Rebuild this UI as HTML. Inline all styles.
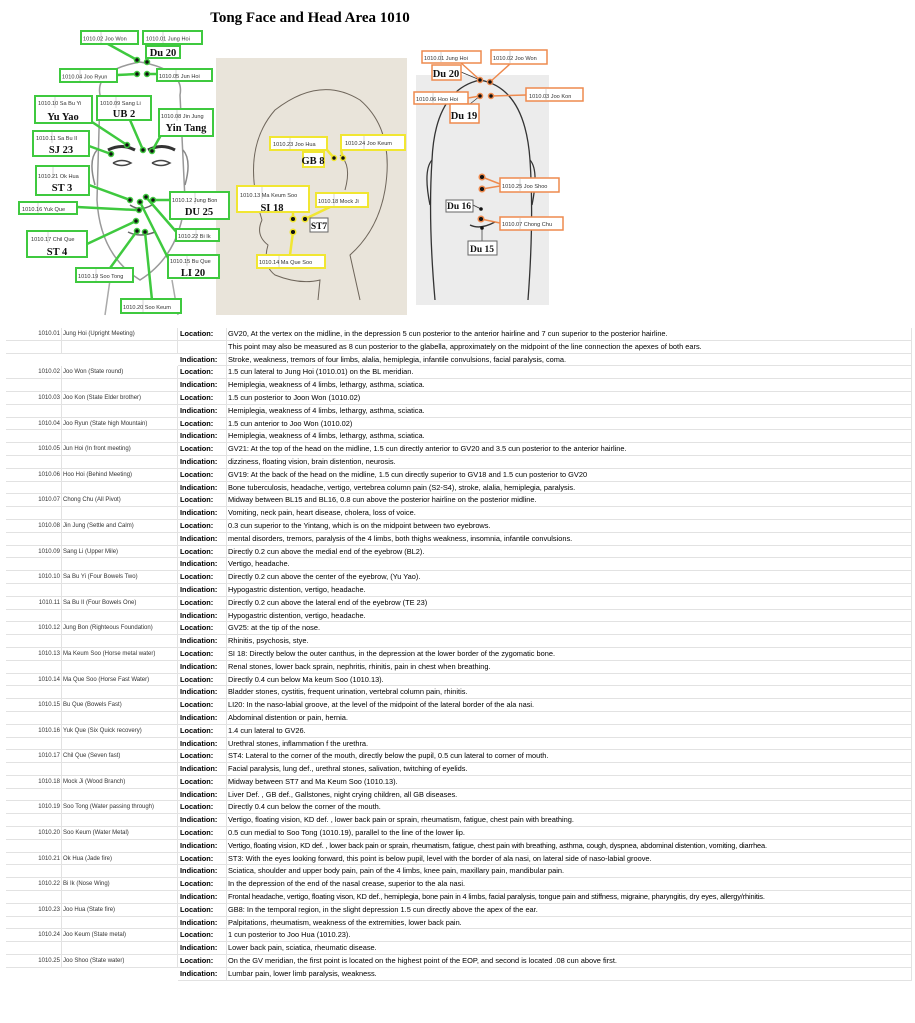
<!DOCTYPE html>
<html><head><meta charset="utf-8">
<style>
body{margin:0;width:915px;height:1023px;background:#fff;position:relative;overflow:hidden;font-family:"Liberation Sans",sans-serif}
#tbl{position:absolute;left:0;top:328px;width:912px}
.r{height:12.8px;position:relative;font-size:7.4px;line-height:12.8px;white-space:nowrap}
.r div{position:absolute;top:0;height:12.8px;box-sizing:border-box;border-bottom:1px solid #e2e2e2;border-right:1px solid #e2e2e2}
.a{left:6px;width:56px;text-align:right;padding-right:1px;color:#333;font-size:6px}
.b{left:62px;width:116px;padding-left:1px;color:#333;font-size:6px}
.c{left:178px;width:49px;font-weight:bold;padding-left:2px}
.d{left:227px;width:685px;padding-left:1px}
.n .a,.n .b{border:none}
</style></head><body>
<svg width="915" height="325" style="position:absolute;left:0;top:0" font-family="Liberation Sans,sans-serif">
<text x="310" y="22" text-anchor="middle" font-family="Liberation Serif,serif" font-weight="bold" font-size="15">Tong Face and Head Area 1010</text>
<!-- front face sketch -->
<g fill="none" stroke="#888" stroke-width="1.5">
<path d="M100 95 Q95 70 140 62 Q185 70 180 95 L185 200 Q180 255 140 280 Q100 255 97 200 Z" stroke="#999"/>
<path d="M97 150 Q88 160 95 185 M183 150 Q192 160 185 185"/>
<path d="M108 150 Q122 143 135 150 M148 150 Q162 143 175 150" stroke="#333" stroke-width="3"/>
<path d="M113 163 Q122 158 131 163 Q122 168 113 163 M152 163 Q161 158 170 163 Q161 168 152 163" stroke="#444"/>
<path d="M130 205 Q140 212 152 205 M128 232 Q140 238 155 232" stroke="#666"/>
<path d="M110 280 L105 315 M172 280 L178 315" stroke="#aaa"/>
</g>
<!-- side image -->
<rect x="216" y="58" width="191" height="257" fill="#e9e4da"/>
<g fill="none" stroke="#6e655a" stroke-width="1">
<path d="M262 220 Q240 150 275 110 Q320 75 360 100 Q395 130 385 190 Q378 230 350 255 L360 300"/>
<path d="M262 220 Q255 235 268 245 Q262 265 275 275 Q300 285 320 280 L318 300"/>
<path d="M340 155 Q352 165 345 190" />
</g>
<!-- back image -->
<rect x="416" y="75" width="133" height="230" fill="#ececec"/>
<g fill="none" stroke="#333" stroke-width="1.3">
<path d="M435 300 Q428 220 432 160 Q435 90 480 80 Q525 88 530 160 Q534 220 528 300"/>
<path d="M432 160 Q423 170 430 205 M530 160 Q539 170 532 205" />
<path d="M470 225 Q480 230 495 222"/>
</g>
<!-- green connectors -->
<g stroke="#3fc93f" stroke-width="2.5" fill="none">
<path d="M108 44 L137 60 M148 44 L147 62 M117 75 L137 74 M147 74 L157 74"/>
<path d="M92 122 L127 145 M130 120 L143 150 M161 135 L152 151 M89 146 L111 154"/>
<path d="M89 185 L130 200 M77 207 L136 210 M87 244 L136 221 M170 200 L153 200"/>
<path d="M179 235 L146 197 M170 262 L140 202 M105 275 L137 231 M152 300 L145 232"/>
</g>
<g fill="#111" stroke="#3fc93f" stroke-width="1.5">
<circle cx="137" cy="60" r="2.5"/><circle cx="147" cy="62" r="2.5"/><circle cx="137" cy="74" r="2.5"/><circle cx="147" cy="74" r="2.5"/>
<circle cx="127" cy="145" r="2.5"/><circle cx="143" cy="150" r="2.5"/><circle cx="152" cy="151" r="2.5"/><circle cx="111" cy="154" r="2.5"/>
<circle cx="130" cy="200" r="2.5"/><circle cx="140" cy="202" r="2.5"/><circle cx="146" cy="197" r="2.5"/><circle cx="153" cy="200" r="2.5"/>
<circle cx="139" cy="210" r="2.5"/><circle cx="136" cy="221" r="2.5"/><circle cx="137" cy="231" r="2.5"/><circle cx="145" cy="232" r="2.5"/>
</g>
<!-- green boxes -->
<g stroke="#3fc93f" stroke-width="2" fill="#fff">
<rect x="81" y="31" width="57" height="13"/><rect x="143" y="31" width="59" height="13"/><rect x="146" y="46" width="34" height="12"/>
<rect x="60" y="69" width="57" height="13"/><rect x="157" y="69" width="55" height="12"/>
<rect x="35" y="96" width="57" height="27"/><rect x="97" y="96" width="54" height="24"/><rect x="159" y="109" width="54" height="27"/>
<rect x="33" y="131" width="56" height="25"/><rect x="36" y="166" width="53" height="29"/><rect x="170" y="192" width="59" height="27"/>
<rect x="19" y="202" width="58" height="12"/><rect x="27" y="231" width="60" height="26"/><rect x="176" y="229" width="43" height="12"/>
<rect x="168" y="255" width="51" height="23"/><rect x="76" y="268" width="57" height="14"/><rect x="121" y="299" width="60" height="14"/>
</g>
<!-- yellow -->
<g stroke="#f1e632" stroke-width="2.5" fill="none">
<path d="M327 150 L334 158 M341 150 L343 158 M293 212 L293 219 M330 207 L305 219 M293 232 L290 255"/>
</g>
<g fill="#111" stroke="#f1e632" stroke-width="1.5">
<circle cx="334" cy="158" r="2.5"/><circle cx="343" cy="158" r="2.5"/><circle cx="293" cy="219" r="2.8"/><circle cx="305" cy="219" r="2.8"/><circle cx="293" cy="232" r="2.8"/>
</g>
<circle cx="313" cy="220" r="2" fill="#111"/>
<g stroke="#f1e632" stroke-width="2" fill="#fff">
<rect x="270" y="137" width="57" height="13"/><rect x="303" y="152" width="21" height="15"/><rect x="341" y="135" width="64" height="15"/>
<rect x="237" y="186" width="72" height="26"/><rect x="316" y="193" width="52" height="14"/><rect x="257" y="255" width="68" height="13"/>
</g>
<rect x="310" y="218" width="18" height="14" fill="#fff" stroke="#666"/>
<!-- orange -->
<g stroke="#ee8a4e" stroke-width="1.5" fill="none">
<path d="M460 62 L480 80 M510 64 L490 82 M468 98 L480 96 M526 95 L491 96 M500 184 L482 177 M500 186 L482 189 M500 223 L481 219"/>
</g>
<path d="M461 72 L480 80 M470 104 L480 96 M473 205 L481 209 M482 228 L482 241" stroke="#333" stroke-width="0.7"/>
<g fill="#111" stroke="#ee8a4e" stroke-width="1.5">
<circle cx="480" cy="80" r="2.5"/><circle cx="490" cy="82" r="2.5"/><circle cx="480" cy="96" r="2.5"/><circle cx="491" cy="96" r="2.5"/>
<circle cx="482" cy="177" r="2.8"/><circle cx="482" cy="189" r="2.8"/><circle cx="481" cy="219" r="2.8"/>
</g>
<circle cx="481" cy="209" r="1.8" fill="#111"/><circle cx="482" cy="228" r="1.8" fill="#111"/>
<g stroke="#ee8a4e" stroke-width="1.5" fill="#fff">
<rect x="422" y="51" width="59" height="12"/><rect x="491" y="50" width="56" height="14"/><rect x="432" y="65" width="29" height="15"/>
<rect x="414" y="92" width="54" height="12"/><rect x="526" y="88" width="57" height="13"/><rect x="450" y="104" width="29" height="19"/>
<rect x="500" y="178" width="59" height="14"/><rect x="500" y="217" width="63" height="13"/>
</g>
<g stroke="#666" stroke-width="1" fill="#fff"><rect x="446" y="200" width="27" height="12"/><rect x="468" y="241" width="29" height="14"/></g>
<!-- dividers -->
<g stroke="#bbb" stroke-width="0.6">
<path d="M101 32V43 M163 32V43 M80 70V81 M176 70V80 M55 97V108 M116 97V108 M177 110V121 M52 132V143 M53 167V178 M195 193V204 M38 203V213 M48 232V243 M196 230V240 M187 256V266 M96 269V281 M143 300V312"/>
<path d="M290 138V149 M364 136V149 M262 187V199 M334 194V206 M279 256V267"/>
<path d="M441 52V62 M510 51V63 M433 93V103 M546 89V100 M520 179V191 M520 218V229"/>
</g>
<g font-size="5.6" fill="#333">
<text x="83" y="40.5">1010.02 Joo Won</text><text x="146" y="40.5">1010.01 Jung Hoi</text>
<text x="62" y="78.5">1010.04 Joo Ryun</text><text x="159" y="78">1010.05   Jun Hoi</text>
<text x="38" y="105">1010.10 Sa Bu Yi</text><text x="100" y="105">1010.09 Sang Li</text><text x="161" y="118">1010.08 Jin Jung</text>
<text x="36" y="140">1010.11 Sa Bu II</text><text x="38" y="178">1010.21 Ok Hua</text><text x="172" y="202">1010.12 Jung Bon</text>
<text x="22" y="211">1010.16 Yuk Que</text><text x="31" y="241">1010.17 Chil Que</text><text x="178" y="238">1010.22 Bi Ik</text>
<text x="170" y="263">1010.15 Bu Que</text><text x="78" y="278">1010.19 Soo Tong</text><text x="123" y="309">1010.20 Soo Keum</text>
<text x="273" y="146">1010.23 Joo Hua</text><text x="345" y="145">1010.24 Joo Keum</text><text x="240" y="197">1010.13  Ma Keum Soo</text>
<text x="318" y="203">1010.18 Mock Ji</text><text x="259" y="264">1010.14 Ma Que Soo</text>
<text x="424" y="60">1010.01 Jung Hoi</text><text x="493" y="60">1010.02 Joo Won</text><text x="416" y="101">1010.06 Hoo Hoi</text>
<text x="529" y="98">1010.03 Joo Kon</text><text x="502" y="188">1010.25 Joo Shoo</text><text x="502" y="226">1010.07 Chong Chu</text>
</g>
<g font-family="Liberation Serif,serif" font-weight="bold" font-size="10.5" fill="#111" text-anchor="middle">
<text x="163" y="56">Du 20</text><text x="63" y="120">Yu Yao</text><text x="124" y="117">UB 2</text><text x="186" y="131">Yin Tang</text>
<text x="61" y="153">SJ 23</text><text x="62" y="191">ST 3</text><text x="199" y="215">DU 25</text><text x="57" y="255">ST 4</text><text x="193" y="276">LI 20</text>
<text x="313" y="164">GB 8</text><text x="272" y="211">SI 18</text><text x="319" y="229" font-size="9.5">ST7</text>
<text x="446" y="77">Du 20</text><text x="464" y="119">Du 19</text><text x="459" y="209" font-size="9.5">Du 16</text><text x="482" y="252" font-size="9.5">Du 15</text>
</g>
</svg>
<div id="tbl">
<div class="r"><div class="a">1010.01</div><div class="b">Jung Hoi (Upright Meeting)</div><div class="c">Location:</div><div class="d">GV20, At the vertex on the midline, in the depression 5 cun posterior to the anterior hairline and 7 cun superior to the posterior hairline.</div></div>
<div class="r"><div class="a"></div><div class="b"></div><div class="c"></div><div class="d"> This point may also be measured as 8 cun posterior to the glabella, approximately on the midpoint of the line connection the apexes of both ears.</div></div>
<div class="r n"><div class="a"></div><div class="b"></div><div class="c">Indication:</div><div class="d">Stroke, weakness, tremors of four limbs, alalia, hemiplegia, infantile convulsions, facial paralysis, coma.</div></div>
<div class="r"><div class="a">1010.02</div><div class="b">Joo Won (State round)</div><div class="c">Location:</div><div class="d">1.5 cun lateral to Jung Hoi (1010.01) on the BL meridian.</div></div>
<div class="r"><div class="a"></div><div class="b"></div><div class="c">Indication:</div><div class="d">Hemiplegia, weakness of 4 limbs, lethargy, asthma, sciatica.</div></div>
<div class="r"><div class="a">1010.03</div><div class="b">Joo Kon (State Elder brother)</div><div class="c">Location:</div><div class="d">1.5 cun posterior to Joon Won (1010.02)</div></div>
<div class="r"><div class="a"></div><div class="b"></div><div class="c">Indication:</div><div class="d">Hemiplegia, weakness of 4 limbs, lethargy, asthma, sciatica.</div></div>
<div class="r"><div class="a">1010.04</div><div class="b">Joo Ryun (State high Mountain)</div><div class="c">Location:</div><div class="d">1.5 cun anterior to Joo Won (1010.02)</div></div>
<div class="r"><div class="a"></div><div class="b"></div><div class="c">Indication:</div><div class="d">Hemiplegia, weakness of 4 limbs, lethargy, asthma, sciatica.</div></div>
<div class="r"><div class="a">1010.05</div><div class="b">Jun Hoi (In front meeting)</div><div class="c">Location:</div><div class="d">GV21: At the top of the head on the midline, 1.5 cun directly anterior to GV20 and 3.5 cun posterior to the anterior hairline.</div></div>
<div class="r"><div class="a"></div><div class="b"></div><div class="c">Indication:</div><div class="d">dizziness, floating vision, brain distention, neurosis.</div></div>
<div class="r"><div class="a">1010.06</div><div class="b">Hoo Hoi (Behind Meeting)</div><div class="c">Location:</div><div class="d">GV19: At the back of the head on the midline, 1.5 cun directly superior to GV18 and 1.5 cun posterior to GV20</div></div>
<div class="r"><div class="a"></div><div class="b"></div><div class="c">Indication:</div><div class="d">Bone tuberculosis, headache, vertigo, vertebrea column pain (S2-S4), stroke, alalia, hemiplegia, paralysis.</div></div>
<div class="r"><div class="a">1010.07</div><div class="b">Chong Chu (All Pivot)</div><div class="c">Location:</div><div class="d">Midway between BL15 and BL16, 0.8 cun above the posterior hairline on the posterior midline.</div></div>
<div class="r"><div class="a"></div><div class="b"></div><div class="c">Indication:</div><div class="d">Vomiting, neck pain, heart disease, cholera, loss of voice.</div></div>
<div class="r"><div class="a">1010.08</div><div class="b">Jin Jung (Settle and Calm)</div><div class="c">Location:</div><div class="d">0.3 cun superior to the Yintang, which is on the midpoint between two eyebrows.</div></div>
<div class="r"><div class="a"></div><div class="b"></div><div class="c">Indication:</div><div class="d">mental disorders, tremors, paralysis of the 4 limbs, both thighs weakness, insomnia, infantile convulsions.</div></div>
<div class="r"><div class="a">1010.09</div><div class="b">Sang Li (Upper Mile)</div><div class="c">Location:</div><div class="d">Directly 0.2 cun above the medial end of the eyebrow (BL2).</div></div>
<div class="r"><div class="a"></div><div class="b"></div><div class="c">Indication:</div><div class="d">Vertigo, headache.</div></div>
<div class="r"><div class="a">1010.10</div><div class="b">Sa Bu Yi (Four Bowels Two)</div><div class="c">Location:</div><div class="d">Directly 0.2 cun above the center of the eyebrow, (Yu Yao).</div></div>
<div class="r"><div class="a"></div><div class="b"></div><div class="c">Indication:</div><div class="d">Hypogastric distention, vertigo, headache.</div></div>
<div class="r"><div class="a">1010.11</div><div class="b">Sa Bu II (Four Bowels One)</div><div class="c">Location:</div><div class="d">Directly 0.2 cun above the lateral end of the eyebrow (TE 23)</div></div>
<div class="r"><div class="a"></div><div class="b"></div><div class="c">Indication:</div><div class="d">Hypogastric distention, vertigo, headache.</div></div>
<div class="r"><div class="a">1010.12</div><div class="b">Jung Bon (Righteous Foundation)</div><div class="c">Location:</div><div class="d">GV25: at the tip of the nose.</div></div>
<div class="r"><div class="a"></div><div class="b"></div><div class="c">Indication:</div><div class="d">Rhinitis, psychosis, stye.</div></div>
<div class="r"><div class="a">1010.13</div><div class="b">Ma Keum Soo (Horse metal water)</div><div class="c">Location:</div><div class="d">SI 18: Directly below the outer canthus, in the depression at the lower border of the zygomatic bone.</div></div>
<div class="r"><div class="a"></div><div class="b"></div><div class="c">Indication:</div><div class="d">Renal stones, lower back sprain, nephritis, rhinitis, pain in chest when breathing.</div></div>
<div class="r"><div class="a">1010.14</div><div class="b">Ma Que Soo (Horse Fast Water)</div><div class="c">Location:</div><div class="d">Directly 0.4 cun below Ma keum Soo (1010.13).</div></div>
<div class="r"><div class="a"></div><div class="b"></div><div class="c">Indication:</div><div class="d">Bladder stones, cystitis, frequent urination, vertebral column pain, rhinitis.</div></div>
<div class="r"><div class="a">1010.15</div><div class="b">Bu Que (Bowels Fast)</div><div class="c">Location:</div><div class="d">LI20: In the naso-labial groove, at the level of the midpoint of the lateral border of the ala nasi.</div></div>
<div class="r"><div class="a"></div><div class="b"></div><div class="c">Indication:</div><div class="d">Abdominal distention or pain, hernia.</div></div>
<div class="r"><div class="a">1010.16</div><div class="b">Yuk Que (Six Quick recovery)</div><div class="c">Location:</div><div class="d">1.4 cun lateral to GV26.</div></div>
<div class="r"><div class="a"></div><div class="b"></div><div class="c">Indication:</div><div class="d">Urethral stones, inflammation f the urethra.</div></div>
<div class="r"><div class="a">1010.17</div><div class="b">Chil Que (Seven fast)</div><div class="c">Location:</div><div class="d">ST4: Lateral to the corner of the mouth, directly below the pupil, 0.5 cun lateral to corner of mouth.</div></div>
<div class="r"><div class="a"></div><div class="b"></div><div class="c">Indication:</div><div class="d">Facial paralysis, lung def., urethral stones, salivation, twitching of eyelids.</div></div>
<div class="r"><div class="a">1010.18</div><div class="b">Mock Ji (Wood Branch)</div><div class="c">Location:</div><div class="d">Midway between ST7 and Ma Keum Soo (1010.13).</div></div>
<div class="r"><div class="a"></div><div class="b"></div><div class="c">Indication:</div><div class="d">Liver Def. , GB def., Gallstones, night crying children, all GB diseases.</div></div>
<div class="r"><div class="a">1010.19</div><div class="b">Soo Tong (Water passing through)</div><div class="c">Location:</div><div class="d">Directly 0.4 cun below the corner of the mouth.</div></div>
<div class="r"><div class="a"></div><div class="b"></div><div class="c">Indication:</div><div class="d">Vertigo, floating vision, KD def. , lower back pain or sprain, rheumatism, fatigue, chest pain with breathing.</div></div>
<div class="r"><div class="a">1010.20</div><div class="b">Soo Keum (Water Metal)</div><div class="c">Location:</div><div class="d">0.5 cun medial to Soo Tong (1010.19), parallel to the line of the lower lip.</div></div>
<div class="r"><div class="a"></div><div class="b"></div><div class="c">Indication:</div><div class="d" style="letter-spacing:-0.15px">Vertigo, floating vision, KD def. , lower back pain or sprain, rheumatism, fatigue, chest pain with breathing, asthma, cough, dyspnea, abdominal distention, vomiting, diarrhea.</div></div>
<div class="r"><div class="a">1010.21</div><div class="b">Ok Hua (Jade fire)</div><div class="c">Location:</div><div class="d">ST3: With the eyes looking forward, this point is below pupil, level with the border of ala nasi, on lateral side of naso-labial groove.</div></div>
<div class="r"><div class="a"></div><div class="b"></div><div class="c">Indication:</div><div class="d">Sciatica, shoulder and upper body pain, pain of the 4 limbs, knee pain, maxillary pain, mandibular pain.</div></div>
<div class="r"><div class="a">1010.22</div><div class="b">Bi Ik (Nose Wing)</div><div class="c">Location:</div><div class="d">In the depression of the end of the nasal crease, superior to the ala nasi.</div></div>
<div class="r"><div class="a"></div><div class="b"></div><div class="c">Indication:</div><div class="d" style="letter-spacing:-0.15px">Frontal headache, vertigo, floating vison, KD def., hemiplegia, bone pain in 4 limbs, facial paralysis, tongue pain and stiffness, migraine, pharyngitis, dry eyes, allergy/rhinitis.</div></div>
<div class="r"><div class="a">1010.23</div><div class="b">Joo Hua (State fire)</div><div class="c">Location:</div><div class="d">GB8: In the temporal region, in the slight depression 1.5 cun directly above the apex of the ear.</div></div>
<div class="r"><div class="a"></div><div class="b"></div><div class="c">Indication:</div><div class="d">Palpitations, rheumatism, weakness of the extremities, lower back pain.</div></div>
<div class="r"><div class="a">1010.24</div><div class="b">Joo Keum (State metal)</div><div class="c">Location:</div><div class="d">1 cun posterior to Joo Hua (1010.23).</div></div>
<div class="r"><div class="a"></div><div class="b"></div><div class="c">Indication:</div><div class="d">Lower back pain, sciatica, rheumatic disease.</div></div>
<div class="r"><div class="a">1010.25</div><div class="b">Joo Shoo (State water)</div><div class="c">Location:</div><div class="d">On the GV meridian, the first point is located on the highest point of the EOP, and second is located .08 cun above first.</div></div>
<div class="r n"><div class="a"></div><div class="b"></div><div class="c">Indication:</div><div class="d">Lumbar pain, lower limb paralysis, weakness.</div></div>
</div>
</body></html>
